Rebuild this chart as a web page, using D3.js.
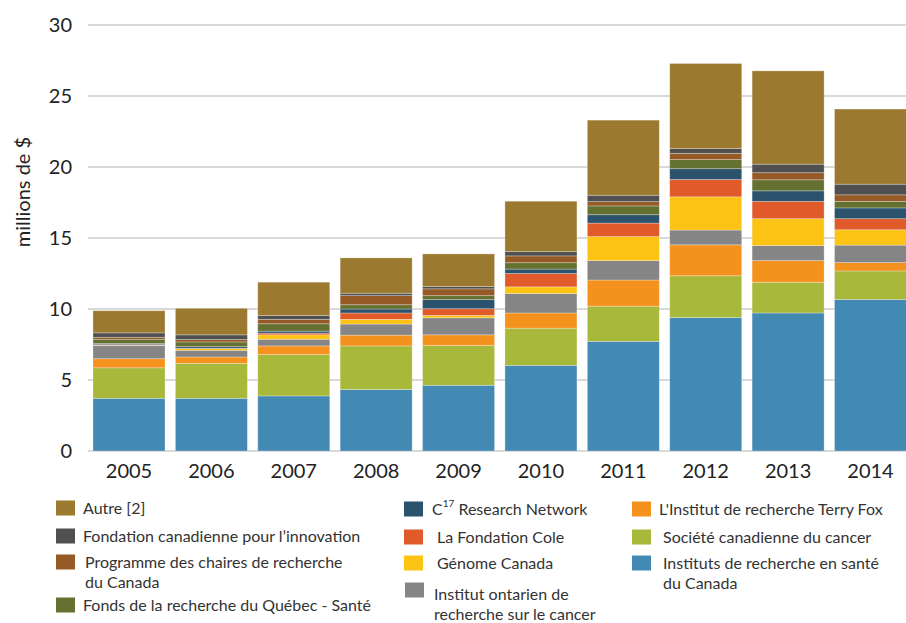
<!DOCTYPE html>
<html>
<head>
<meta charset="utf-8">
<script src="https://cdn.jsdelivr.net/npm/d3@7"></script>
<style>
  html, body { margin: 0; padding: 0; background: #fff; }
  svg { display: block; font-family: Lato, "Open Sans", sans-serif; }
</style>
</head>
<body>
<svg id="chart" width="906" height="623"></svg>
<script>
const years = ["2005","2006","2007","2008","2009","2010","2011","2012","2013","2014"];
const seriesNames = [
  "Instituts de recherche en santé du Canada",
  "Société canadienne du cancer",
  "L'Institut de recherche Terry Fox",
  "Institut ontarien de recherche sur le cancer",
  "Génome Canada",
  "La Fondation Cole",
  "C17 Research Network",
  "Fonds de la recherche du Québec - Santé",
  "Programme des chaires de recherche du Canada",
  "Fondation canadienne pour l’innovation",
  "Autre [2]"
];
const irsc     = [3.71, 3.71, 3.88, 4.33, 4.63, 6.03, 7.72, 9.40, 9.72, 10.67];
const societe  = [2.15, 2.46, 2.91, 3.07, 2.80, 2.62, 2.48, 2.94, 2.16, 2.01];
const terryFox = [0.64, 0.45, 0.61, 0.76, 0.75, 1.07, 1.84, 2.18, 1.53, 0.59];
const oicr     = [0.92, 0.47, 0.47, 0.78, 1.20, 1.37, 1.37, 1.04, 1.06, 1.23];
const genome   = [0.03, 0.12, 0.31, 0.33, 0.17, 0.47, 1.69, 2.34, 1.89, 1.08];
const cole     = [0.04, 0.03, 0.12, 0.45, 0.47, 0.94, 0.95, 1.22, 1.22, 0.78];
const c17      = [0.08, 0.11, 0.14, 0.28, 0.64, 0.31, 0.59, 0.76, 0.74, 0.76];
const frqs     = [0.30, 0.33, 0.52, 0.30, 0.28, 0.45, 0.62, 0.64, 0.78, 0.46];
const chaires  = [0.14, 0.17, 0.31, 0.64, 0.48, 0.48, 0.30, 0.44, 0.50, 0.46];
const fci      = [0.31, 0.33, 0.28, 0.17, 0.16, 0.30, 0.45, 0.34, 0.60, 0.75];
const autre    = [1.56, 1.87, 2.34, 2.49, 2.30, 3.55, 5.29, 5.99, 6.57, 5.29];
const yTicks = [0, 5, 10, 15, 20, 25, 30];

const colors = ["#4289B4","#A8B83A","#F5921E","#858585","#FCC314","#E05A2A","#2B536E","#647131","#955A26","#505050","#9B7A2F"];
const seriesValues = [irsc, societe, terryFox, oicr, genome, cole, c17, frqs, chaires, fci, autre];

const table = years.map((y, i) => {
  const row = { year: y };
  seriesNames.forEach((n, k) => row[n] = seriesValues[k][i]);
  return row;
});

const svg = d3.select("#chart");
const x = d3.scaleBand().domain(years).range([87.8, 911.7]).paddingInner(0.126).paddingOuter(0.063);
const y = d3.scaleLinear().domain([0, 30]).range([451, 25]);

// gridlines
svg.append("g").selectAll("line").data(yTicks).join("line")
  .attr("x1", 88).attr("x2", 906)
  .attr("y1", d => y(d)).attr("y2", d => y(d))
  .attr("stroke", "#d9d9d9").attr("stroke-width", 2);

// y tick labels
svg.append("g").selectAll("text").data(yTicks).join("text")
  .attr("x", 72).attr("y", d => y(d)).attr("dy", "0.36em")
  .attr("text-anchor", "end").attr("font-size", 20).attr("fill", "#222")
  .text(d => d);

// y title
svg.append("text")
  .attr("transform", "translate(30,192) rotate(-90)")
  .attr("text-anchor", "middle").attr("font-size", 20).attr("fill", "#222")
  .text("millions de $");

// stacked bars
const stack = d3.stack().keys(seriesNames)(table);
svg.append("g").selectAll("g").data(stack).join("g")
  .attr("fill", (d, i) => colors[i])
  .selectAll("rect").data(d => d).join("rect")
  .attr("x", d => x(d.data.year))
  .attr("width", x.bandwidth())
  .attr("y", d => y(d[1]))
  .attr("height", d => y(d[0]) - y(d[1]))
  .attr("stroke", "rgba(255,255,255,0.35)").attr("stroke-width", 0.8);

// x labels
svg.append("g").selectAll("text").data(years).join("text")
  .attr("x", d => x(d) + x.bandwidth() / 2).attr("y", 478)
  .attr("text-anchor", "middle").attr("font-size", 20).attr("fill", "#222")
  .text(d => d);

// legend
const legend = [
  { k: 10, sx: 56, sy: 508, tx: 83, lines: ["Autre [2]"] },
  { k: 9, sx: 56, sy: 536, tx: 83, lines: ["Fondation canadienne pour l’innovation"] },
  { k: 8, sx: 56, sy: 562, tx: 85, lines: ["Programme des chaires de recherche", "du Canada"] },
  { k: 7, sx: 56, sy: 605, tx: 83, lines: ["Fonds de la recherche du Québec - Santé"] },
  { k: 6, sx: 404, sy: 509, tx: 432, lines: ["C17"] , c17: true },
  { k: 5, sx: 404, sy: 537, tx: 437, lines: ["La Fondation Cole"] },
  { k: 4, sx: 404, sy: 563, tx: 437, lines: ["Génome Canada"] },
  { k: 3, sx: 405, sy: 590, tx: 434, lines: ["Institut ontarien de", "recherche sur le cancer"] , off: 4 },
  { k: 2, sx: 632, sy: 509, tx: 659, lines: ["L'Institut de recherche Terry Fox"] },
  { k: 1, sx: 632, sy: 537, tx: 663, lines: ["Société canadienne du cancer"] },
  { k: 0, sx: 632, sy: 563, tx: 663, lines: ["Instituts de recherche en santé", "du Canada"] }
];
const lg = svg.append("g");
legend.forEach(item => {
  lg.append("rect").attr("x", item.sx).attr("y", item.sy - 7.5)
    .attr("width", 19).attr("height", 15).attr("fill", colors[item.k]);
  if (item.c17) {
    const t = lg.append("text").attr("x", item.tx).attr("y", item.sy).attr("dy", "0.35em")
      .attr("font-size", 16).attr("fill", "#333");
    t.append("tspan").text("C");
    t.append("tspan").attr("font-size", 10).attr("dy", "-0.75em").text("17");
    t.append("tspan").attr("dy", "0.47em").text(" Research Network");
  } else {
    item.lines.forEach((line, j) => {
      lg.append("text").attr("x", item.tx)
        .attr("y", item.sy + (item.off || 0) + j * 20.5).attr("dy", "0.35em")
        .attr("font-size", 16).attr("fill", "#333").text(line);
    });
  }
});
</script>
</body>
</html>
